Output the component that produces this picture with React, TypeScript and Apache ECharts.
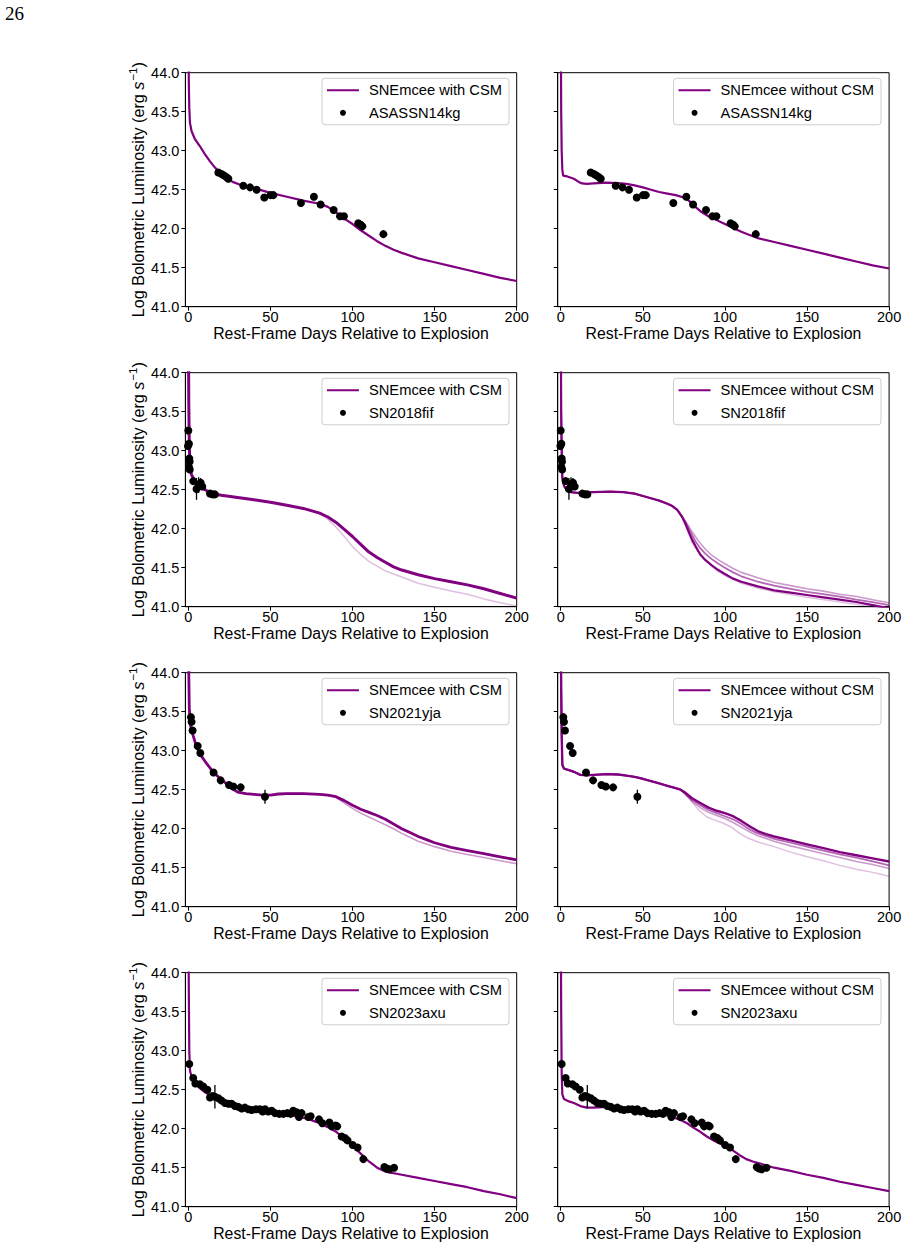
import React, { useEffect, useRef } from "react";
import * as echarts from "echarts";

// ---------- tick labels ----------
const X_TICKS = [0, 50, 100, 150, 200];
const Y_MIN = 41.0;
const Y_MAX = 44.0;

// ---------- legend labels ----------
const WITH_CSM = "SNEmcee with CSM";
const WITHOUT_CSM = "SNEmcee without CSM";
const SN_NAMES = ["ASASSN14kg", "SN2018fif", "SN2021yja", "SN2023axu"];

// ---------- observed light curves [day, log L] ----------
const obs14kg = [
  [18.3, 42.72], [20.3, 42.70], [21.9, 42.68], [23.3, 42.66], [24.4, 42.64],
  [33.5, 42.55], [37.6, 42.53], [41.6, 42.50], [46.3, 42.40], [50.1, 42.43],
  [51.8, 42.43], [68.6, 42.33], [76.5, 42.41], [80.6, 42.31], [88.5, 42.24],
  [92.4, 42.16], [94.8, 42.16], [103.5, 42.07], [105.0, 42.05], [106.0, 42.03],
  [118.8, 41.93],
];
const obs18fif = [
  [0.0, 43.26], [-0.2, 43.06], [0.4, 43.09], [0.6, 42.90], [0.8, 42.86],
  [0.4, 42.79], [0.9, 42.76], [3.0, 42.61], [5.0, 42.51], [6.3, 42.56],
  [7.5, 42.59], [8.5, 42.54], [13.2, 42.45], [14.8, 42.44], [16.2, 42.44],
];
const err18fif = [[5.0, 42.51, 0.14], [6.3, 42.56, 0.1], [7.5, 42.59, 0.06], [13.2, 42.45, 0.04], [3.0, 42.61, 0.04]];
const obs21yja = [
  [1.6, 43.43], [2.0, 43.37], [2.6, 43.26], [5.7, 43.06], [7.3, 42.97],
  [15.4, 42.72], [19.7, 42.62], [24.8, 42.56], [27.4, 42.54], [31.9, 42.53],
  [46.7, 42.41],
];
const err21yja = [[46.7, 42.41, 0.09], [24.8, 42.56, 0.04]];
const obs23axu = [
  [0.6, 42.83], [3.0, 42.65], [4.3, 42.58], [7.1, 42.57], [9.1, 42.54],
  [11.6, 42.50], [13.2, 42.40], [14.8, 42.42], [16.2, 42.41], [18.3, 42.39],
  [20.3, 42.36], [22.3, 42.33], [24.4, 42.32], [26.4, 42.32], [28.4, 42.29],
  [30.5, 42.28], [32.5, 42.26], [34.5, 42.27], [36.5, 42.25], [38.6, 42.24],
  [41.2, 42.25], [43.6, 42.25], [45.3, 42.22], [46.7, 42.25], [48.7, 42.22],
  [50.8, 42.23], [52.8, 42.20], [55.4, 42.19], [57.9, 42.19], [60.3, 42.20],
  [62.3, 42.19], [63.9, 42.23], [66.0, 42.21], [67.4, 42.15], [69.0, 42.20],
  [73.1, 42.15], [74.5, 42.16], [79.6, 42.12], [81.6, 42.07], [85.9, 42.08],
  [87.3, 42.03], [89.7, 42.04], [90.7, 42.03], [93.4, 41.90], [95.4, 41.88],
  [97.0, 41.85], [100.1, 41.79], [103.1, 41.76], [106.6, 41.61], [119.4, 41.51],
  [120.8, 41.49], [122.4, 41.48], [125.3, 41.50],
];
const err23axu = [[16.2, 42.41, 0.15]];

// ---------- model curves [day, log L] ----------
const csm14kg = [
  [0, 45.0], [0.3, 43.9], [0.6, 43.55], [1, 43.36], [2, 43.25], [4, 43.15], [7, 43.06],
  [10, 42.96], [13, 42.87], [16, 42.79], [19, 42.72], [23, 42.65], [27, 42.60], [32, 42.56],
  [40, 42.52], [50, 42.46], [60, 42.41], [70, 42.36], [80, 42.32], [85, 42.28], [90, 42.21],
  [95, 42.13], [100, 42.06], [105, 41.98], [110, 41.91], [115, 41.84], [120, 41.78],
  [125, 41.73], [130, 41.69], [140, 41.62], [150, 41.57], [160, 41.52], [170, 41.47],
  [180, 41.42], [190, 41.37], [200, 41.33],
];
const noCsm14kg = [
  [0, 45.0], [0.3, 43.5], [0.6, 43.0], [1, 42.75], [1.5, 42.68], [4, 42.67], [8, 42.64],
  [11, 42.60], [13, 42.58], [16, 42.575], [20, 42.58], [28, 42.59], [35, 42.585], [40, 42.575],
  [45, 42.555], [50, 42.53], [55, 42.50], [60, 42.47], [65, 42.45], [70, 42.43], [75, 42.40],
  [78, 42.36], [82, 42.28], [86, 42.21], [90, 42.16], [95, 42.11], [100, 42.06], [105, 42.01],
  [110, 41.96], [115, 41.92], [120, 41.88], [130, 41.83], [140, 41.78], [150, 41.73],
  [160, 41.68], [170, 41.63], [180, 41.58], [190, 41.53], [200, 41.49],
];
const csm18fifEarly = [
  [0, 45.0], [0.3, 43.6], [0.6, 43.1], [1, 42.78], [2, 42.69], [4, 42.61], [7, 42.54],
  [11, 42.49], [15, 42.45], [20, 42.43], [30, 42.40], [40, 42.37], [50, 42.34], [60, 42.30],
  [70, 42.26], [80, 42.20],
];
const csm18fifMainTail = [
  [85, 42.15], [90, 42.08], [95, 41.99], [100, 41.90], [105, 41.80], [110, 41.70], [115, 41.63],
  [120, 41.57], [125, 41.51], [130, 41.47], [140, 41.41], [150, 41.36], [160, 41.32],
  [170, 41.28], [180, 41.23], [190, 41.17], [200, 41.11],
];
const csm18fifFaintTail = [
  [85, 42.12], [90, 42.02], [95, 41.90], [100, 41.77], [105, 41.67], [110, 41.58], [115, 41.52],
  [120, 41.46], [130, 41.38], [140, 41.30], [150, 41.25], [160, 41.20], [170, 41.16],
  [180, 41.10], [190, 41.05], [200, 41.01],
];
const noCsm18fifEarly = [
  [0, 45.0], [0.3, 43.5], [0.6, 43.0], [1, 42.65], [2, 42.55], [3.5, 42.50], [6, 42.47],
  [10, 42.46], [20, 42.47], [30, 42.475], [38, 42.47], [45, 42.45], [50, 42.42], [55, 42.39],
  [60, 42.36], [65, 42.32], [68, 42.29], [71, 42.24], [74, 42.15],
];
const noCsm18fifTailA = [
  [76, 42.06], [78, 41.96], [80, 41.86], [82, 41.78], [85, 41.67], [88, 41.60], [92, 41.53],
  [96, 41.47], [100, 41.42], [105, 41.36], [110, 41.32], [120, 41.26], [130, 41.21],
  [140, 41.18], [150, 41.15], [160, 41.12], [170, 41.09], [180, 41.06], [190, 41.02], [200, 40.98],
];
const noCsm18fifTailB = [
  [76, 42.08], [78, 42.00], [80, 41.92], [82, 41.84], [85, 41.75], [88, 41.68], [92, 41.61],
  [96, 41.55], [100, 41.50], [105, 41.44], [110, 41.39], [120, 41.32], [130, 41.27],
  [140, 41.23], [150, 41.19], [160, 41.16], [170, 41.13], [180, 41.09], [190, 41.06], [200, 41.02],
];
const noCsm18fifTailC = [
  [76, 42.10], [78, 42.03], [80, 41.96], [84, 41.84], [88, 41.74], [92, 41.66], [96, 41.60],
  [100, 41.55], [105, 41.49], [110, 41.44], [120, 41.37], [130, 41.31], [140, 41.27],
  [150, 41.23], [160, 41.20], [170, 41.16], [180, 41.13], [190, 41.09], [200, 41.05],
];
const noCsm18fifTailD = [
  [76, 42.04], [78, 41.93], [80, 41.82], [84, 41.70], [88, 41.60], [92, 41.52], [96, 41.45],
  [100, 41.40], [110, 41.30], [120, 41.24], [130, 41.19], [150, 41.12], [170, 41.06],
  [190, 41.00], [200, 40.97],
];
const csm21yjaEarly = [
  [0, 45.0], [0.3, 44.0], [0.6, 43.55], [1, 43.40], [1.5, 43.31], [3, 43.19], [5, 43.05],
  [8, 42.93], [11, 42.84], [15, 42.73], [19, 42.65], [23, 42.58], [27, 42.51], [30, 42.47],
  [35, 42.45], [40, 42.44], [45, 42.43], [50, 42.43], [55, 42.445], [60, 42.45], [70, 42.45],
  [80, 42.44], [85, 42.43],
];
const csm21yjaMainTail = [
  [90, 42.41], [95, 42.36], [100, 42.30], [105, 42.25], [110, 42.21], [115, 42.17], [120, 42.12],
  [125, 42.06], [130, 42.00], [135, 41.95], [140, 41.90], [145, 41.86], [150, 41.82],
  [160, 41.76], [170, 41.72], [180, 41.68], [190, 41.64], [200, 41.60],
];
const csm21yjaFaintTail = [
  [90, 42.40], [95, 42.33], [100, 42.26], [105, 42.20], [110, 42.15], [115, 42.10], [120, 42.05],
  [125, 42.00], [130, 41.94], [135, 41.89], [140, 41.84], [150, 41.77], [160, 41.71],
  [170, 41.67], [180, 41.63], [190, 41.59], [200, 41.55],
];
const noCsm21yjaEarly = [
  [0, 45.0], [0.3, 43.8], [0.6, 43.2], [1, 42.82], [2, 42.77], [5, 42.75], [8, 42.73],
  [12, 42.69], [16, 42.685], [20, 42.69], [28, 42.70], [35, 42.695], [40, 42.68], [45, 42.665],
  [50, 42.64], [55, 42.61], [60, 42.58], [65, 42.55], [70, 42.52], [73, 42.50],
];
const noCsm21yjaTailA = [
  [76, 42.46], [80, 42.39], [85, 42.33], [90, 42.27], [95, 42.23], [100, 42.20], [105, 42.16],
  [110, 42.10], [115, 42.03], [120, 41.97], [125, 41.93], [130, 41.90], [140, 41.85],
  [150, 41.80], [160, 41.75], [170, 41.70], [180, 41.66], [190, 41.62], [200, 41.58],
];
const noCsm21yjaTailB = [
  [76, 42.45], [80, 42.37], [85, 42.30], [90, 42.24], [95, 42.20], [100, 42.16], [105, 42.12],
  [110, 42.06], [115, 41.99], [120, 41.94], [130, 41.87], [140, 41.82], [150, 41.77],
  [160, 41.72], [170, 41.67], [180, 41.63], [190, 41.58], [200, 41.53],
];
const noCsm21yjaTailC = [
  [76, 42.44], [80, 42.35], [85, 42.27], [90, 42.21], [95, 42.17], [100, 42.13], [105, 42.08],
  [110, 42.02], [115, 41.96], [120, 41.91], [130, 41.84], [140, 41.78], [150, 41.73],
  [160, 41.68], [170, 41.63], [180, 41.58], [190, 41.54], [200, 41.49],
];
const noCsm21yjaTailD = [
  [74, 42.48], [79, 42.37], [84, 42.24], [89, 42.15], [94, 42.11], [99, 42.07], [104, 42.02],
  [109, 41.94], [114, 41.88], [120, 41.83], [130, 41.77], [140, 41.70], [150, 41.64],
  [160, 41.59], [170, 41.53], [180, 41.48], [190, 41.44], [200, 41.39],
];
const csm23axu = [
  [0, 45.0], [0.3, 43.8], [0.6, 43.0], [1, 42.75], [2, 42.66], [3, 42.61], [5, 42.56],
  [7, 42.52], [10, 42.47], [14, 42.42], [19, 42.37], [25, 42.32], [30, 42.29], [40, 42.25],
  [50, 42.21], [60, 42.18], [70, 42.14], [75, 42.11], [80, 42.07], [85, 42.02], [90, 41.96],
  [95, 41.88], [100, 41.78], [105, 41.68], [110, 41.58], [115, 41.50], [120, 41.45],
  [130, 41.41], [140, 41.37], [150, 41.33], [160, 41.29], [170, 41.25], [180, 41.20],
  [190, 41.16], [200, 41.11],
];
const noCsm23axu = [
  [0, 45.0], [0.3, 43.5], [0.6, 42.7], [1, 42.44], [2, 42.38], [5, 42.35], [8, 42.33],
  [12, 42.29], [16, 42.27], [20, 42.27], [28, 42.28], [35, 42.27], [40, 42.265], [48, 42.24],
  [55, 42.21], [60, 42.195], [68, 42.15], [72, 42.12], [77, 42.07], [81, 42.01], [85, 41.96],
  [89, 41.90], [93, 41.85], [97, 41.81], [101, 41.77], [105, 41.72], [109, 41.66], [113, 41.61],
  [117, 41.58], [122, 41.55], [130, 41.50], [140, 41.46], [150, 41.41], [160, 41.37],
  [170, 41.32], [180, 41.28], [190, 41.24], [200, 41.20],
];

// ---------- styling ----------
const FONT = "'Liberation Sans', Arial, Helvetica, sans-serif";
const PURPLE = "#800080";
const P60 = "rgba(128,0,128,0.6)";
const P40 = "rgba(128,0,128,0.4)";
const P25 = "rgba(128,0,128,0.25)";
const TICK_FS = 14.5;
const LEGEND_FS = 14.7;
const NAME_FS = 15.8;

type Curve = { data: number[][]; color: string; width: number };
type Panel = { label: string; sn: string; curves: Curve[]; obs: number[][]; err: number[][] };

const panels: Panel[] = [
  { label: WITH_CSM, sn: SN_NAMES[0], obs: obs14kg, err: [],
    curves: [{ data: csm14kg, color: PURPLE, width: 2.2 }] },
  { label: WITHOUT_CSM, sn: SN_NAMES[0], obs: obs14kg, err: [],
    curves: [{ data: noCsm14kg, color: PURPLE, width: 2.2 }] },
  { label: WITH_CSM, sn: SN_NAMES[1], obs: obs18fif, err: err18fif,
    curves: [
      { data: [...csm18fifEarly, ...csm18fifMainTail], color: PURPLE, width: 3 },
      { data: [...csm18fifEarly, ...csm18fifFaintTail], color: P25, width: 1.5 },
    ] },
  { label: WITHOUT_CSM, sn: SN_NAMES[1], obs: obs18fif, err: err18fif,
    curves: [
      { data: [...noCsm18fifEarly, ...noCsm18fifTailA], color: PURPLE, width: 2.2 },
      { data: [...noCsm18fifEarly, ...noCsm18fifTailB], color: P60, width: 1.8 },
      { data: [...noCsm18fifEarly, ...noCsm18fifTailC], color: P40, width: 1.6 },
      { data: [...noCsm18fifEarly, ...noCsm18fifTailD], color: P25, width: 1.5 },
    ] },
  { label: WITH_CSM, sn: SN_NAMES[2], obs: obs21yja, err: err21yja,
    curves: [
      { data: [...csm21yjaEarly, ...csm21yjaMainTail], color: PURPLE, width: 2.8 },
      { data: [...csm21yjaEarly, ...csm21yjaFaintTail], color: P40, width: 1.6 },
    ] },
  { label: WITHOUT_CSM, sn: SN_NAMES[2], obs: obs21yja, err: err21yja,
    curves: [
      { data: [...noCsm21yjaEarly, ...noCsm21yjaTailA], color: PURPLE, width: 2.4 },
      { data: [...noCsm21yjaEarly, ...noCsm21yjaTailB], color: P60, width: 1.8 },
      { data: [...noCsm21yjaEarly, ...noCsm21yjaTailC], color: P40, width: 1.6 },
      { data: [...noCsm21yjaEarly, ...noCsm21yjaTailD], color: P25, width: 1.5 },
    ] },
  { label: WITH_CSM, sn: SN_NAMES[3], obs: obs23axu, err: err23axu,
    curves: [{ data: csm23axu, color: PURPLE, width: 2.2 }] },
  { label: WITHOUT_CSM, sn: SN_NAMES[3], obs: obs23axu, err: err23axu,
    curves: [{ data: noCsm23axu, color: PURPLE, width: 2.2 }] },
];

// layout
const X_MIN = -1.8;
const X_MAX = 200;
const PX_PER_DAY = 1.642;
const GRID_W = (X_MAX - X_MIN) * PX_PER_DAY;
const GRID_H = 234;
const LEFT_ZERO = [188.3, 560.7];
const ROW_TOP0 = 72.7;
const ROW_STEP = 300;
const LEGEND_RIGHT = [398, 26];

function buildOption() {
  const grid: any[] = [];
  const xAxis: any[] = [];
  const yAxis: any[] = [];
  const series: any[] = [];
  const legend: any[] = [];

  panels.forEach((p, i) => {
    const col = i % 2;
    const row = Math.floor(i / 2);
    const top = ROW_TOP0 + ROW_STEP * row;
    const left = LEFT_ZERO[col] + X_MIN * PX_PER_DAY;
    grid.push({
      left, top, width: GRID_W, height: GRID_H,
      show: true, borderColor: "#000", borderWidth: 1, backgroundColor: "transparent",
      containLabel: false,
    });
    xAxis.push({
      type: "value", gridIndex: i, min: X_MIN, max: X_MAX,
      splitLine: { show: false },
      axisLine: { show: true, onZero: false, lineStyle: { color: "#000", width: 1 } },
      axisTick: { show: true, inside: false, length: 4, customValues: X_TICKS, lineStyle: { color: "#000", width: 1 } },
      axisLabel: {
        show: true, customValues: X_TICKS, margin: 3, color: "#000", fontSize: TICK_FS, fontFamily: FONT,
        formatter: (v: number) => String(v),
      },
      name: "Rest-Frame Days Relative to Explosion",
      nameLocation: "middle", nameGap: 19,
      nameTextStyle: { color: "#000", fontSize: NAME_FS, fontFamily: FONT },
    });
    yAxis.push({
      type: "value", gridIndex: i, min: Y_MIN, max: Y_MAX, interval: 0.5,
      splitLine: { show: false },
      axisLine: { show: true, onZero: false, lineStyle: { color: "#000", width: 1 } },
      axisTick: { show: true, inside: false, length: 4, lineStyle: { color: "#000", width: 1 } },
      axisLabel: {
        show: col === 0, margin: 6, color: "#000", fontSize: TICK_FS, fontFamily: FONT,
        formatter: (v: number) => v.toFixed(1),
      },
      name: col === 0 ? "Log Bolometric Luminosity (erg {i|s}{sup|\u22121})" : "",
      nameLocation: "middle", nameGap: 37, nameRotate: 90,
      nameTextStyle: {
        color: "#000", fontSize: 16.2, fontFamily: FONT,
        rich: {
          i: { fontStyle: "italic", fontSize: 16.2, fontFamily: FONT, color: "#000" },
          sup: { fontSize: 11.5, fontFamily: FONT, color: "#000", padding: [0, 0, 9, 1] },
        },
      },
    });

    // model curves: faint first, main on top
    const ordered = p.curves.map((c, k) => ({ c, k })).reverse();
    ordered.forEach(({ c, k }) => {
      series.push({
        type: "line",
        name: k === 0 ? p.label : "posterior sample",
        xAxisIndex: i, yAxisIndex: i,
        data: c.data,
        showSymbol: false, symbol: "none",
        lineStyle: { color: c.color, width: c.width },
        itemStyle: { color: c.color },
        clip: true, silent: true, z: 2,
      });
    });
    if (p.err.length) {
      series.push({
        type: "custom",
        name: p.sn + " errors",
        xAxisIndex: i, yAxisIndex: i,
        data: p.err,
        encode: { x: 0, y: 1 },
        silent: true, z: 4,
        renderItem: (_params: any, api: any) => {
          const x = api.value(0);
          const y = api.value(1);
          const e = api.value(2);
          const a = api.coord([x, y - e]);
          const b = api.coord([x, y + e]);
          return {
            type: "line",
            shape: { x1: a[0], y1: a[1], x2: b[0], y2: b[1] },
            style: { stroke: "#000", lineWidth: 1.3 },
          };
        },
      });
    }
    series.push({
      type: "scatter", name: p.sn,
      xAxisIndex: i, yAxisIndex: i,
      data: p.obs, symbol: "circle", symbolSize: 8,
      itemStyle: { color: "#000", opacity: 1 }, silent: true, z: 5,
    });

    legend.push({
      orient: "vertical",
      right: LEGEND_RIGHT[col],
      top: top + 5.6,
      selectedMode: false,
      backgroundColor: "rgba(255,255,255,0.8)",
      borderColor: "#cccccc", borderWidth: 1, borderRadius: 3,
      padding: [4, 7, 4, 5],
      itemGap: 6.5,
      itemWidth: 32, itemHeight: 6,
      textStyle: { color: "#000", fontSize: LEGEND_FS, fontFamily: FONT, lineHeight: 16, padding: [0, 0, 0, 5] },
      data: [
        { name: p.label, icon: "path://M0,0H32V2H0Z", itemStyle: { color: PURPLE } },
        { name: p.sn, icon: "circle", itemStyle: { color: "#000", opacity: 1 } },
      ],
    });
  });

  return {
    animation: false,
    backgroundColor: "#fff",
    grid, xAxis, yAxis, series, legend,
    graphic: [
      {
        type: "text", left: 5, top: 4,
        style: { text: "26", fontSize: 19, fontFamily: "'Liberation Serif', 'DejaVu Serif', serif", fill: "#000" },
      },
    ],
  };
}

export default function App() {
  const ref = useRef<HTMLDivElement>(null);
  useEffect(() => {
    if (!ref.current) return;
    const chart = echarts.init(ref.current, undefined, { renderer: "svg" });
    chart.setOption(buildOption() as any);
    return () => chart.dispose();
  }, []);
  return (
    <div
      ref={ref}
      style={{ position: "absolute", left: 0, top: 0, width: 907, height: 1251, background: "#fff" }}
    />
  );
}
